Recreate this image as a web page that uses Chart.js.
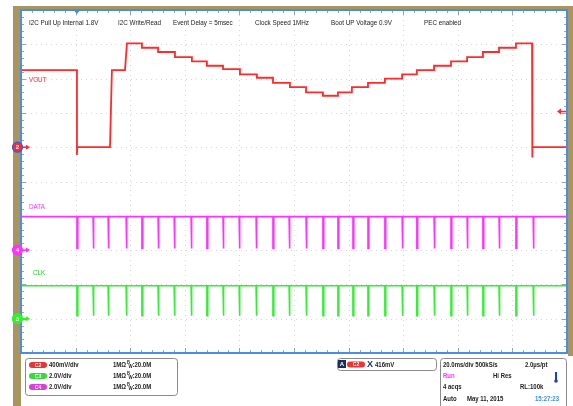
<!DOCTYPE html>
<html><head><meta charset="utf-8">
<script src="https://cdn.jsdelivr.net/npm/chart.js@4"></script>
<style>html,body{margin:0;padding:0;background:#fff;overflow:hidden}canvas{display:block}</style>
</head><body>
<canvas id="c" width="573" height="406"></canvas>
<script>
// ---- Time base: 20 ms/div, 10 divisions (ms) ----
const timeMin = -20;
const timeMax = 180;
const timeStep = 20;

// ---- C2 VOUT (400 mV/div), volts ----
const voutBootLevel = 0.90;
const voutDropTime = 0.5;
const voutDropUndershoot = -0.09;
const voutRestartTime = 12.6;
const voutBootReachedTime = 13.3;
const voutBootEndTime = 18.1;
const voutStepStart = [18.8, 24.3, 30.2, 36.4, 42.6, 48.1, 54.0, 60.2, 66.4, 72.3, 78.5, 84.4, 90.6,
                       96.1, 101.2, 107.1, 113.3, 119.6, 125.0, 131.3, 137.5, 143.4, 149.2, 155.1, 161.3];
const voutStepLevel = [1.21, 1.16, 1.11, 1.05, 1.00, 0.95, 0.91, 0.85, 0.81, 0.75, 0.70, 0.64, 0.60,
                       0.64, 0.70, 0.75, 0.80, 0.85, 0.90, 0.95, 1.00, 1.05, 1.11, 1.16, 1.21];
const voutOffTime = 167.2;
const voutOffUndershoot = -0.12;

// ---- C4 DATA / C3 CLK (2 V/div), volts ----
const busPulseTimes = [0.5, 6.4, 11.9, 18.5, 24.3, 30.2, 36.1, 42.3, 48.1, 54.0, 59.9, 66.1, 72.3, 78.2,
                       84.4, 90.6, 96.1, 101.6, 107.1, 113.3, 119.6, 125.0, 131.3, 137.5, 143.4, 149.2,
                       155.1, 161.3, 167.6];
const busPulseWidth = 0.3;
const dataHigh = 1.95, dataLow = 0.10;
const clkHigh = 1.92, clkLow = 0.17;

// ---- Vertical scales (div from bottom of screen to channel ground) ----
const c2Range = [-2.4, 1.6];   // 400 mV/div, ground 6 div up
const c4Range = [-6, 14];      // 2 V/div, ground 3 div up
const c3Range = [-2, 18];      // 2 V/div, ground 1 div up
const triggerLevel = 0.416;

// ---- Annotation texts ----
const headerTexts = ["I2C Pull Up Internal 1.8V", "I2C Write/Read", "Event Delay = 5msec",
                     "Clock Speed 1MHz", "Boot UP Voltage 0.9V", "PEC enabled"];
const chanNames = ["C2", "C3", "C4"];
const chanScales = ["400mV/div", "2.0V/div", "2.0V/div"];

// ---- build trace tables ----
const voutPts = [
  {x: timeMin, y: voutBootLevel}, {x: voutDropTime, y: voutBootLevel},
  {x: voutDropTime, y: voutDropUndershoot}, {x: voutDropTime + 0.1, y: 0},
  {x: voutRestartTime, y: 0}, {x: voutBootReachedTime, y: voutBootLevel},
  {x: voutBootEndTime, y: voutBootLevel}
];
voutStepStart.forEach((t, i) => {
  const next = i + 1 < voutStepStart.length ? voutStepStart[i + 1] : voutOffTime;
  voutPts.push({x: t, y: voutStepLevel[i]}, {x: next, y: voutStepLevel[i]});
});
voutPts.push({x: voutOffTime, y: voutOffUndershoot}, {x: voutOffTime + 0.2, y: 0}, {x: timeMax, y: 0});

function busTrace(hi, lo) {
  const pts = [{x: timeMin, y: hi}];
  busPulseTimes.forEach(t => {
    pts.push({x: t, y: hi}, {x: t, y: lo}, {x: t + busPulseWidth, y: lo}, {x: t + busPulseWidth, y: hi});
  });
  pts.push({x: timeMax, y: hi});
  return pts;
}
const dataPts = busTrace(dataHigh, dataLow);
const clkPts = busTrace(clkHigh, clkLow);

// ---- drawing helpers ----
const FONT = '"Liberation Sans", Arial, sans-serif';
function T(ctx, s, x, y, color, size, bold, sx) {
  ctx.save();
  ctx.font = (bold ? 'bold ' : '') + (size || 7.5) + 'px ' + FONT;
  ctx.fillStyle = color; ctx.textBaseline = 'middle'; ctx.textAlign = 'left';
  ctx.translate(x, y); ctx.scale(sx || 0.84, 1);
  ctx.fillText(s, 0, 0);
  ctx.restore();
}
function rr(ctx, x, y, w, h, r) {
  ctx.beginPath();
  ctx.moveTo(x + r, y); ctx.lineTo(x + w - r, y); ctx.arcTo(x + w, y, x + w, y + r, r);
  ctx.lineTo(x + w, y + h - r); ctx.arcTo(x + w, y + h, x + w - r, y + h, r);
  ctx.lineTo(x + r, y + h); ctx.arcTo(x, y + h, x, y + h - r, r);
  ctx.lineTo(x, y + r); ctx.arcTo(x, y, x + r, y, r); ctx.closePath();
}
function pill(ctx, x, y, w, h, color, label) {
  rr(ctx, x, y - h / 2, w, h, h / 2);
  ctx.fillStyle = color; ctx.fill();
  ctx.save(); ctx.font = 'bold 5px ' + FONT; ctx.fillStyle = '#fff';
  ctx.textAlign = 'center'; ctx.textBaseline = 'middle';
  ctx.fillText(label, x + w / 2, y + 0.5); ctx.restore();
}

const TAN = '#a8955f', BLUE = '#4a8ee4';
const RED = '#ff2a2a', MAG = '#ff33ff', GRN = '#33ee33';

const scopePlugin = {
  id: 'scope',
  beforeDraw(chart) {
    const ctx = chart.ctx;
    ctx.save();
    ctx.fillStyle = '#fff'; ctx.fillRect(0, 0, chart.width, chart.height);
    ctx.fillStyle = TAN;
    ctx.fillRect(13, 6, 8, 400);
    ctx.fillRect(13, 6, 560, 3);
    ctx.fillRect(568, 6, 5, 350);
    ctx.restore();
  },
  beforeDatasetsDraw(chart) {
    const ctx = chart.ctx, a = chart.chartArea;
    const xs = chart.scales.x, ys = chart.scales.yV;
    ctx.save();
    ctx.strokeStyle = '#d6d6d6'; ctx.lineWidth = 1; ctx.setLineDash([1, 4]);
    for (let t = timeMin + timeStep; t < timeMax; t += timeStep) {
      const px = Math.round(xs.getPixelForValue(t)) + 0.5;
      ctx.beginPath(); ctx.moveTo(px, a.top); ctx.lineTo(px, a.bottom); ctx.stroke();
    }
    for (let v = c2Range[0] + 0.4; v < c2Range[1] - 0.01; v += 0.4) {
      const py = Math.round(ys.getPixelForValue(v)) + 0.5;
      ctx.beginPath(); ctx.moveTo(a.left, py); ctx.lineTo(a.right, py); ctx.stroke();
    }
    ctx.setLineDash([]);
    // minor ticks on frame
    ctx.strokeStyle = '#98a4bc';
    const dx = (a.right - a.left) / 50, dy = (a.bottom - a.top) / 50;
    for (let i = 1; i < 50; i++) {
      const L = i % 5 === 0 ? 5 : 3;
      const px = Math.round(a.left + i * dx) + 0.5;
      ctx.beginPath(); ctx.moveTo(px, a.top); ctx.lineTo(px, a.top + L);
      ctx.moveTo(px, a.bottom); ctx.lineTo(px, a.bottom - L); ctx.stroke();
      const py = Math.round(a.top + i * dy) + 0.5;
      ctx.beginPath(); ctx.moveTo(a.left, py); ctx.lineTo(a.left + L, py);
      ctx.moveTo(a.right, py); ctx.lineTo(a.right - L, py); ctx.stroke();
    }
    ctx.restore();
  },
  afterDraw(chart) {
    const ctx = chart.ctx, a = chart.chartArea;
    const xs = chart.scales.x;
    ctx.save();
    // frame
    ctx.strokeStyle = BLUE; ctx.lineWidth = 2;
    ctx.strokeRect(a.left, a.top, a.right - a.left, a.bottom - a.top);
    // trigger position marker
    const tx = xs.getPixelForValue(voutDropTime);
    ctx.fillStyle = '#3a8ee6';
    ctx.beginPath(); ctx.moveTo(tx - 4, a.top - 1); ctx.lineTo(tx + 4, a.top - 1); ctx.lineTo(tx, a.top + 4); ctx.closePath(); ctx.fill();
    // trigger level marker
    const ty = chart.scales.yV.getPixelForValue(triggerLevel);
    ctx.fillStyle = RED; ctx.strokeStyle = RED; ctx.lineWidth = 1.5;
    ctx.beginPath(); ctx.moveTo(a.right - 10, ty); ctx.lineTo(a.right - 6, ty - 3); ctx.lineTo(a.right - 6, ty + 3); ctx.closePath(); ctx.fill();
    ctx.beginPath(); ctx.moveTo(a.right - 6, ty); ctx.lineTo(a.right - 1, ty); ctx.stroke();
    // channel ground markers
    const marks = [['2', chart.scales.yV, RED], ['4', chart.scales.yD, MAG], ['3', chart.scales.yC, GRN]];
    marks.forEach(([n, sc, col]) => {
      const y = sc.getPixelForValue(0);
      ctx.fillStyle = col; ctx.strokeStyle = col; ctx.lineWidth = 1.5;
      ctx.beginPath(); ctx.moveTo(22, y); ctx.lineTo(27, y); ctx.stroke();
      ctx.beginPath(); ctx.moveTo(30, y); ctx.lineTo(26, y - 2.5); ctx.lineTo(26, y + 2.5); ctx.closePath(); ctx.fill();
      ctx.beginPath(); ctx.arc(17.5, y, 5, 0, Math.PI * 2); ctx.fillStyle = col; ctx.fill();
      ctx.strokeStyle = n === '2' ? '#3355ee' : col; ctx.lineWidth = 1.2; ctx.stroke();
      ctx.font = 'bold 6px ' + FONT; ctx.fillStyle = '#fff'; ctx.textAlign = 'center'; ctx.textBaseline = 'middle';
      ctx.fillText(n, 17.5, y + 0.5);
    });
    ctx.restore();
    // header texts
    const hx = [29, 118, 173, 255, 331, 424];
    headerTexts.forEach((s, i) => T(ctx, s, hx[i], 23, '#222'));
    T(ctx, 'VOUT', 29, 80, RED);
    T(ctx, 'DATA', 29, 207, MAG);
    T(ctx, 'CLK', 33, 273, '#22cc22');

    ctx.save();
    ctx.strokeStyle = '#8a8a8a'; ctx.lineWidth = 1;
    rr(ctx, 25.5, 358.5, 152, 37, 3); ctx.fillStyle = '#fff'; ctx.fill(); ctx.stroke();
    rr(ctx, 337.5, 358.5, 99, 12, 3); ctx.fill(); ctx.stroke();
    rr(ctx, 440.5, 358.5, 126, 60, 3); ctx.fill(); ctx.stroke();
    ctx.restore();

    const pillCols = ['#e83535', '#3ad83a', '#dd3fdd'];
    [365, 376, 387].forEach((y, i) => {
      pill(ctx, 29, y, 18, 6, pillCols[i], chanNames[i]);
      T(ctx, chanScales[i], 49, y, '#222', 7.5, true, 0.8);
      T(ctx, '1MΩ', 113, y, '#222', 7.5, true, 0.8);
      T(ctx, 'B', 127, y - 2, '#222', 5, true, 0.8);
      T(ctx, 'W', 128.5, y + 1.5, '#222', 5.5, true, 0.8);
      T(ctx, ':20.0M', 132.5, y, '#222', 7.5, true, 0.8);
    });
    ctx.save();
    ctx.fillStyle = '#1c2f5a'; ctx.fillRect(338, 360, 8, 8);
    ctx.font = 'bold 6px ' + FONT; ctx.fillStyle = '#fff'; ctx.textAlign = 'center'; ctx.textBaseline = 'middle';
    ctx.fillText('A', 342, 364.5);
    ctx.restore();
    pill(ctx, 347, 364.5, 18, 6, '#e83535', 'C2');
    T(ctx, 'X', 367, 364.5, '#1c2f5a', 9, true, 1);
    T(ctx, '416mV', 375, 364.5, '#222', 7.5, true, 0.8);
    T(ctx, '20.0ms/div 500kS/s', 443, 365, '#222', 7.5, true, 0.8);
    T(ctx, '2.0µs/pt', 525, 365, '#222', 7.5, true, 0.8);
    T(ctx, 'Run', 443, 376, '#ff33ff', 7.5, true, 0.8);
    T(ctx, 'Hi Res', 493, 376, '#222', 7.5, true, 0.8);
    T(ctx, '4 acqs', 443, 387, '#222', 7.5, true, 0.8);
    T(ctx, 'RL:100k', 520, 387, '#222', 7.5, true, 0.8);
    T(ctx, 'Auto', 443, 399, '#222', 7.5, true, 0.8);
    T(ctx, 'May 11, 2015', 467, 399, '#222', 7.5, true, 0.8);
    T(ctx, '15:27:23', 535, 399, '#3a8ee6', 7.5, true, 0.8);
    ctx.save();
    ctx.fillStyle = '#1a3fc8';
    ctx.fillRect(555, 372, 2, 8);
    ctx.beginPath(); ctx.arc(556, 381, 1.8, 0, Math.PI * 2); ctx.fill();
    ctx.restore();
  }
};

new Chart(document.getElementById('c').getContext('2d'), {
  type: 'line',
  data: {
    datasets: [
      {label: 'VOUT', data: voutPts, borderColor: RED, borderWidth: 1.8, yAxisID: 'yV'},
      {label: 'DATA', data: dataPts, borderColor: MAG, borderWidth: 1.6, yAxisID: 'yD'},
      {label: 'CLK', data: clkPts, borderColor: GRN, borderWidth: 1.6, yAxisID: 'yC'}
    ]
  },
  options: {
    responsive: false,
    animation: false,
    events: [],
    elements: {point: {radius: 0}, line: {tension: 0}},
    plugins: {legend: {display: false}, tooltip: {enabled: false}},
    layout: {padding: {left: 21, right: 6, top: 10, bottom: 53}},
    scales: {
      x: {type: 'linear', min: timeMin, max: timeMax, display: false},
      yV: {type: 'linear', min: c2Range[0], max: c2Range[1], display: false},
      yD: {type: 'linear', min: c4Range[0], max: c4Range[1], display: false},
      yC: {type: 'linear', min: c3Range[0], max: c3Range[1], display: false}
    }
  },
  plugins: [scopePlugin]
});
</script>
</body></html>
